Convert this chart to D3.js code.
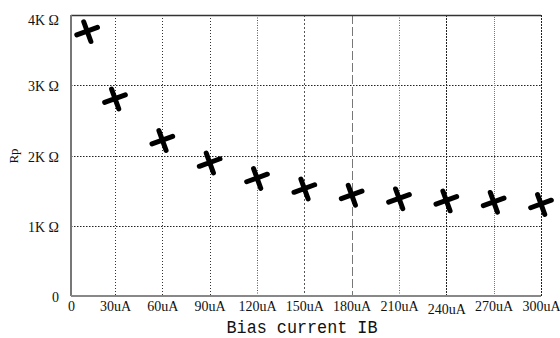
<!DOCTYPE html>
<html>
<head>
<meta charset="utf-8">
<script src="https://cdn.jsdelivr.net/npm/d3@7"></script>
<style>
  body { margin: 0; background: #fff; }
  svg { display: block; }
  .tick text { font-family: "Liberation Serif", "DejaVu Serif", serif; fill: #111; }
</style>
</head>
<body>
<div id="chart"></div>
<script>
// bias current (uA) and resistance Rp (ohm)
var biasCurrent = [11, 30, 60, 90, 120, 150, 180, 210, 240, 270, 300];
var rpValues = [3770, 2810, 2220, 1900, 1680, 1530, 1440, 1390, 1360, 1340, 1310];

var xTicks = [0, 30, 60, 90, 120, 150, 180, 210, 240, 270, 300];
var xTickLabels = ["0", "30uA", "60uA", "90uA", "120uA", "150uA", "180uA", "210uA", "240uA", "270uA", "300uA"];
var yTicks = [0, 1000, 2000, 3000, 4000];
var yTickLabels = ["0", "1K \u03a9", "2K \u03a9", "3K \u03a9", "4K \u03a9"];

var w = 560, h = 338;
var margin = {left: 71, top: 15, right: 19, bottom: 42};
var pw = w - margin.left - margin.right;
var ph = h - margin.top - margin.bottom;

var svg = d3.select("#chart").append("svg").attr("width", w).attr("height", h);
var g = svg.append("g").attr("transform", "translate(" + margin.left + "," + margin.top + ")");

// the scanned axis squeezes the first 30uA step a bit
var xScale = d3.scaleLinear().domain([0, 30, 300]).range([0, 44, pw]);
var yScale = d3.scaleLinear().domain([0, 4000]).range([ph, 0]);

// dash look of each vertical grid line (scan is uneven)
var vDash = ["", "1,2", "1,2", "1,2", "1,1.5", "2,2", "9,3", "1,1.5", "2,1", "1,1", "2,1"];
var vColor = ["", "#333", "#333", "#333", "#555", "#555", "#777", "#666", "#222", "#777", "#222"];

g.selectAll("line.hgrid")
    .data(yTicks.filter(function(d){ return d > 0 && d < 4000; }))
    .enter()
    .append("line")
    .attr("class", "hgrid")
    .attr("x1", 0)
    .attr("x2", pw)
    .attr("y1", function(d){ return Math.round(yScale(d)) + 0.5; })
    .attr("y2", function(d){ return Math.round(yScale(d)) + 0.5; })
    .attr("stroke", "#222")
    .attr("stroke-width", 1)
    .attr("stroke-dasharray", "1.5,1.5");

g.selectAll("line.vgrid")
    .data(xTicks.slice(1))
    .enter()
    .append("line")
    .attr("class", "vgrid")
    .attr("x1", function(d){ return Math.round(xScale(d)) + 0.5; })
    .attr("x2", function(d){ return Math.round(xScale(d)) + 0.5; })
    .attr("y1", 0)
    .attr("y2", ph)
    .attr("stroke", function(d, i){ return vColor[i + 1]; })
    .attr("stroke-width", 1)
    .attr("stroke-dasharray", function(d, i){ return vDash[i + 1]; });

// frame: dark top border, grey left and bottom axes
g.append("line").attr("x1", 0).attr("x2", pw).attr("y1", 0.5).attr("y2", 0.5)
    .attr("stroke", "#333").attr("stroke-width", 1.5);
g.append("line").attr("x1", 0).attr("x2", 0).attr("y1", 0).attr("y2", ph)
    .attr("stroke", "#777").attr("stroke-width", 2);
g.append("line").attr("x1", 0).attr("x2", pw).attr("y1", ph).attr("y2", ph)
    .attr("stroke", "#888").attr("stroke-width", 2);

var xAxis = d3.axisBottom(xScale).tickValues(xTicks).tickSize(0).tickPadding(0)
    .tickFormat(function(d, i){ return xTickLabels[i]; });
var xg = g.append("g").attr("transform", "translate(0," + ph + ")").call(xAxis);
xg.select(".domain").remove();
xg.selectAll("text")
    .attr("y", 5)
    .attr("dy", "0.71em")
    .style("font-size", "14px")
    .attr("transform", function(d){ return d == 240 ? "translate(0,3)" : null; });

var yAxis = d3.axisLeft(yScale).tickValues(yTicks).tickSize(0).tickPadding(12)
    .tickFormat(function(d, i){ return yTickLabels[i]; });
var yg = g.append("g").call(yAxis);
yg.select(".domain").remove();
yg.selectAll("text")
    .style("font-size", "14px")
    .attr("dy", function(d){ return d == 4000 ? "0.7em" : "0.4em"; });

// markers: thick tilted crosses
g.selectAll("path.mark")
    .data(biasCurrent.map(function(d, i){ return {x: d, y: rpValues[i]}; }))
    .enter()
    .append("path")
    .attr("class", "mark")
    .attr("d", "M-11,0L11,0M0,-10L0,11")
    .attr("transform", function(d){
        return "translate(" + xScale(d.x) + "," + yScale(d.y) + ") rotate(-20)";
    })
    .attr("stroke", "#000")
    .attr("stroke-width", 5)
    .attr("stroke-linecap", "round")
    .attr("fill", "none");

// axis titles
svg.append("text")
    .text("Bias current IB")
    .attr("x", 302)
    .attr("y", 333)
    .attr("text-anchor", "middle")
    .attr("textLength", 151)
    .attr("lengthAdjust", "spacingAndGlyphs")
    .style("font-family", "'Liberation Mono', 'DejaVu Sans Mono', monospace")
    .style("font-size", "18px")
    .attr("fill", "#111");

svg.append("text")
    .text("Rp")
    .attr("transform", "translate(18,156) rotate(-90)")
    .attr("text-anchor", "middle")
    .style("font-family", "'Liberation Serif', 'DejaVu Serif', serif")
    .style("font-size", "13px")
    .attr("fill", "#111");
</script>
</body>
</html>
